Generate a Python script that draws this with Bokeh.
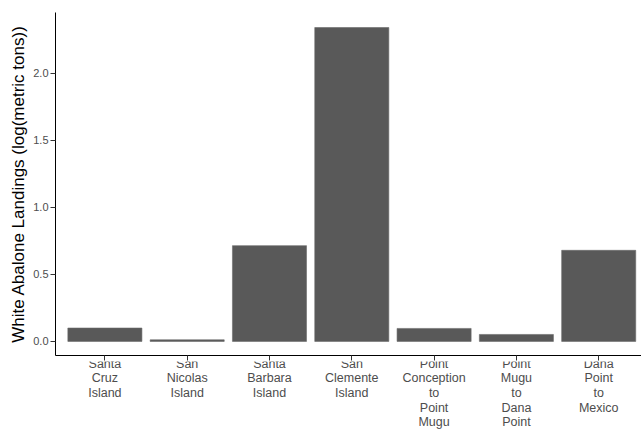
from bokeh.plotting import figure
from bokeh.layouts import column
from bokeh.models import Range1d, FixedTicker, CustomLabelingPolicy
from bokeh.core.properties import value
from bokeh.embed import file_html
from bokeh.resources import INLINE

# White abalone landings by region, log(metric tons)
regions = [
    "Santa\nCruz\nIsland",
    "San\nNicolas\nIsland",
    "Santa\nBarbara\nIsland",
    "San\nClemente\nIsland",
    "Point\nConception\nto\nPoint\nMugu",
    "Point\nMugu\nto\nDana\nPoint",
    "Dana\nPoint\nto\nMexico",
]
landings = [0.10, 0.012, 0.715, 2.343, 0.097, 0.052, 0.68]
y_ticks = [0.0, 0.5, 1.0, 1.5, 2.0]

positions = list(range(1, len(regions) + 1))

FONT = "Liberation Sans"
W, H = 641, 429
MAIN_H = 361
x_range = Range1d(0.4, 7.52)

p = figure(
    width=W, height=MAIN_H,
    output_backend="svg", toolbar_location=None,
    x_range=x_range, y_range=Range1d(-0.105, 2.455),
    min_border_left=55, min_border_right=0, min_border_top=12, min_border_bottom=6,
)

p.vbar(x=positions, top=landings, bottom=0, width=0.9,
       fill_color="#595959", line_color="#6a6a6a", line_width=0.6)

p.grid.visible = False
p.outline_line_color = None
p.background_fill_color = "white"
p.border_fill_color = "white"

# x axis keeps its line and ticks; the category names are set below it
p.xaxis.ticker = FixedTicker(ticks=positions)
p.xaxis.major_label_policy = CustomLabelingPolicy(
    code="for (const i of [...indices]) indices.unset(i); return indices")
p.xaxis.major_label_standoff = 0
p.yaxis.ticker = FixedTicker(ticks=y_ticks)
p.yaxis.major_label_overrides = {t: f"{t:.1f}" for t in y_ticks}

for ax in (p.xaxis, p.yaxis):
    ax.axis_line_color = "black"
    ax.axis_line_width = 1
    ax.major_tick_line_color = "#333333"
    ax.major_tick_in = 0
    ax.major_tick_out = 5
    ax.minor_tick_line_color = None
    ax.major_label_text_font = FONT
    ax.major_label_text_color = "#4d4d4d"

p.xaxis.major_label_text_font_size = "0px"
p.yaxis.major_label_text_font_size = "11px"
p.yaxis.major_label_standoff = 2

p.yaxis.axis_label = "White Abalone Landings (log(metric tons))"
p.yaxis.axis_label_text_font = FONT
p.yaxis.axis_label_text_font_size = "17px"
p.yaxis.axis_label_text_font_style = "normal"
p.yaxis.axis_label_text_color = "black"
p.yaxis.axis_label_standoff = 2

# strip of multi-line category names sharing the bar chart's x range
lab_h = H - MAIN_H
p2 = figure(
    width=W, height=lab_h,
    output_backend="svg", toolbar_location=None,
    x_range=x_range, y_range=Range1d(0, lab_h),
    min_border_left=55, min_border_right=0, min_border_top=0, min_border_bottom=0,
)
p2.axis.visible = False
p2.grid.visible = False
p2.outline_line_color = None
p2.background_fill_color = "white"
p2.border_fill_color = "white"
p2.text(x=positions, y=[lab_h] * len(positions), text=regions, y_offset=-5,
        text_align="center", text_baseline="top",
        text_font=value(FONT), text_font_size="12.5px", text_color="#4d4d4d",
        text_line_height=1.05)

layout = column(p, p2, spacing=0)
open("out.html", "w").write(file_html(layout, INLINE))
